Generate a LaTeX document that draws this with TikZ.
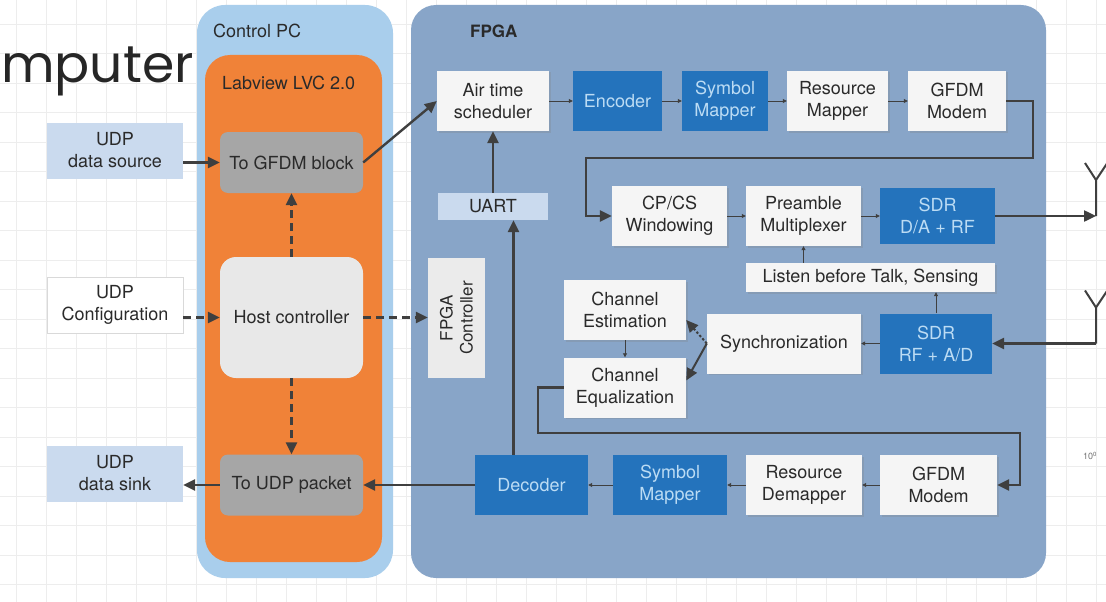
\documentclass[tikz,border=0pt]{standalone}
\usepackage{fontspec}
\setmainfont{TeX Gyre Heros}
\newfontfamily\slidefont{Poppins}
\usetikzlibrary{arrows.meta,shadows}

\definecolor{pcblue}{HTML}{A9CEEC}
\definecolor{lvorange}{HTML}{F08238}
\definecolor{fpgablue}{HTML}{88A5C8}
\definecolor{blockblue}{HTML}{2473BC}
\definecolor{blocktext}{HTML}{BCDCF4}
\definecolor{udpblue}{HTML}{CADAEE}
\definecolor{wirecol}{HTML}{3F3F3F}
\definecolor{inkcol}{HTML}{2A2A2A}

\begin{document}
\begin{tikzpicture}[
    x=1pt, y=-1pt,
    every node/.style={font=\fontsize{18}{22}\selectfont, text=inkcol, align=center, inner sep=0pt},
    lightblk/.style={fill=black!4, minimum height=60,
        drop shadow={shadow xshift=1.5pt, shadow yshift=-1.5pt, opacity=.25}},
    darkblk/.style={fill=blockblue, text=blocktext, minimum height=60},
    udpblk/.style={minimum width=136, minimum height=56},
    lvblk/.style={fill=black!35, rounded corners=8pt, minimum width=143, minimum height=61},
    bigwire/.style={draw=wirecol, line width=2.4pt, -{Triangle[length=12pt,width=11pt]}},
    smallwire/.style={draw=wirecol, line width=.8pt, -{Triangle[length=4pt,width=4pt]}},
    ctrlwire/.style={bigwire, dash pattern=on 8pt off 5pt},
    gridline/.style={draw=black!7, line width=.8pt}]
  \useasboundingbox (0,0) rectangle (1106,602);
  \fill[white] (0,0) rectangle (1106,602);

  % slide grid
  \foreach \gx in {16,46,...,1096}
    \draw[gridline] (\gx,0) -- (\gx,602);
  \foreach \gy in {24,53.5,...,600}
    \draw[gridline] (0,\gy) -- (1106,\gy);

  \node[font=\slidefont\fontsize{52}{52}\selectfont, text=black!85, anchor=base west] (slidetitle) at (1,82) {mputer};
  \node[font=\fontsize{9}{9}\selectfont, text=black!55] (tick) at (1090,456) {10\textsuperscript{0}};

  % containers
  \node[fill=pcblue, rounded corners=28pt, minimum width=196, minimum height=573] (ctrlpc) at (295,291.5) {};
  \node[fill=lvorange, rounded corners=25pt, minimum width=177, minimum height=507] (labview) at (293.5,308.5) {};
  \node[fill=fpgablue, rounded corners=25pt, minimum width=635, minimum height=573] (fpga) at (728.5,291.5) {};
  \node[anchor=west] (pctitle) at (213,31) {Control PC};
  \node[anchor=west] (lvtitle) at (222,83) {Labview LVC 2.0};
  \node[anchor=west, font=\bfseries\fontsize{17}{19}\selectfont] (fpgatitle) at (470,31) {FPGA};

  % UDP side
  \node[udpblk, fill=udpblue] (udpsrc) at (115,150.5) {UDP\\data source};
  \node[udpblk, fill=white, draw=black!15] (udpcfg) at (115,305) {UDP\\Configuration};
  \node[udpblk, fill=udpblue] (udpsink) at (115,473.5) {UDP\\data sink};

  % Labview blocks
  \node[lvblk] (togfdm) at (291.5,162.5) {To GFDM block};
  \node[fill=black!9, rounded corners=16pt, minimum width=143, minimum height=121] (host) at (291.5,317.5) {Host controller};
  \node[lvblk] (toudp) at (291.5,485) {To UDP packet};

  % FPGA control
  \node[fill=black!8, minimum width=120, minimum height=57, rotate=90,
        font=\fontsize{17}{20}\selectfont] (fpgactl) at (456.5,318) {FPGA\\Controller};
  \node[fill=udpblue, minimum width=110, minimum height=27] (uart) at (493,206.5) {UART};

  % transmit chain
  \node[lightblk, minimum width=112] (air) at (493,101) {Air time\\scheduler};
  \node[darkblk, minimum width=89] (enc) at (617.5,101) {Encoder};
  \node[darkblk, minimum width=86] (symtx) at (725,101) {Symbol\\Mapper};
  \node[lightblk, minimum width=101] (resmap) at (837.5,101) {Resource\\Mapper};
  \node[lightblk, minimum width=98] (modtx) at (957,101) {GFDM\\Modem};

  \node[lightblk, minimum width=115] (cpcs) at (669.5,216) {CP/CS\\Windowing};
  \node[lightblk, minimum width=115] (pream) at (803.5,216) {Preamble\\Multiplexer};
  \node[darkblk, minimum width=115, minimum height=56] (sdrtx) at (937.5,216) {SDR\\D/A + RF};

  % receive chain
  \node[lightblk, minimum width=249, minimum height=29] (lbt) at (870.5,277.5) {Listen before Talk, Sensing};
  \node[darkblk, minimum width=112] (sdrrx) at (936,343.5) {SDR\\RF + A/D};
  \node[lightblk, minimum width=154] (sync) at (784,343.5) {Synchronization};
  \node[lightblk, minimum width=122] (chest) at (625,310) {Channel\\Estimation};
  \node[lightblk, minimum width=122] (cheq) at (625,387.5) {Channel\\Equalization};

  \node[lightblk, minimum width=117] (modrx) at (938.5,485) {GFDM\\Modem};
  \node[lightblk, minimum width=116] (resdem) at (804,485) {Resource\\Demapper};
  \node[darkblk, minimum width=114] (symrx) at (670,485) {Symbol\\Mapper};
  \node[darkblk, minimum width=113] (dec) at (531.5,485) {Decoder};

  % antennas
  \coordinate (anttx) at (1096,216);
  \coordinate (antrx) at (1096,343.5);
  \foreach \ant in {anttx, antrx}
    \draw[draw=wirecol, line width=2pt] (\ant) -- ++(0,-36) -- ++(-11,-17) ++(11,17) -- ++(12,-18);

  % host side
  \draw[bigwire] (udpsrc.east |- togfdm.west) -- (togfdm.west);
  \draw[bigwire] (toudp.west) -- (toudp.west -| udpsink.east);
  \draw[ctrlwire] (udpcfg.east |- host.west) -- (host.west);
  \draw[ctrlwire] (host.north) -- (togfdm.south);
  \draw[ctrlwire] (host.south) -- (toudp.north);
  \draw[ctrlwire] (host.east) -- (host.east -| fpgactl.north);
  \draw[bigwire] (togfdm.east) -- (air.west);
  \draw[bigwire] (uart.north) -- (air.south);
  \draw[bigwire] ([xshift=-18pt]dec.north) -- ([xshift=-18pt]dec.north |- uart.south);
  \draw[bigwire] (dec.west) -- (toudp.east);

  % small links
  \foreach \a/\b in {air/enc, enc/symtx, symtx/resmap, resmap/modtx, cpcs/pream, pream/sdrtx}
    \draw[smallwire] (\a.east) -- (\b.west);
  \foreach \a/\b in {modrx/resdem, resdem/symrx, symrx/dec, sdrrx/sync}
    \draw[smallwire] (\a.west) -- (\b.east);
  \draw[smallwire] (sdrrx.north) -- (sdrrx.north |- lbt.south);
  \draw[smallwire] (lbt.north -| pream.south) -- (pream.south);
  \draw[smallwire] (chest.south) -- (cheq.north);

  % loops
  \coordinate (txturn) at (1033,158);
  \coordinate (txdrop) at (586,158);
  \draw[bigwire] (modtx.east) -| (txturn) -- (txdrop) |- (cpcs.west);
  \coordinate (rxdrop) at (538,433);
  \coordinate (rxturn) at (1020,433);
  \draw[bigwire] (cheq.west) -| (rxdrop) -- (rxturn) |- (modrx.east);

  \draw[bigwire] (sdrtx.east) -- (anttx);
  \draw[bigwire] (antrx) -- (sdrrx.east);

  % synchronization
  \draw[bigwire, dotted, line width=2pt] (sync.west) -- ([yshift=-10pt]chest.east);
  \draw[bigwire, line width=2pt] (sync.west) -- ([yshift=7pt]cheq.east);
\end{tikzpicture}
\end{document}
